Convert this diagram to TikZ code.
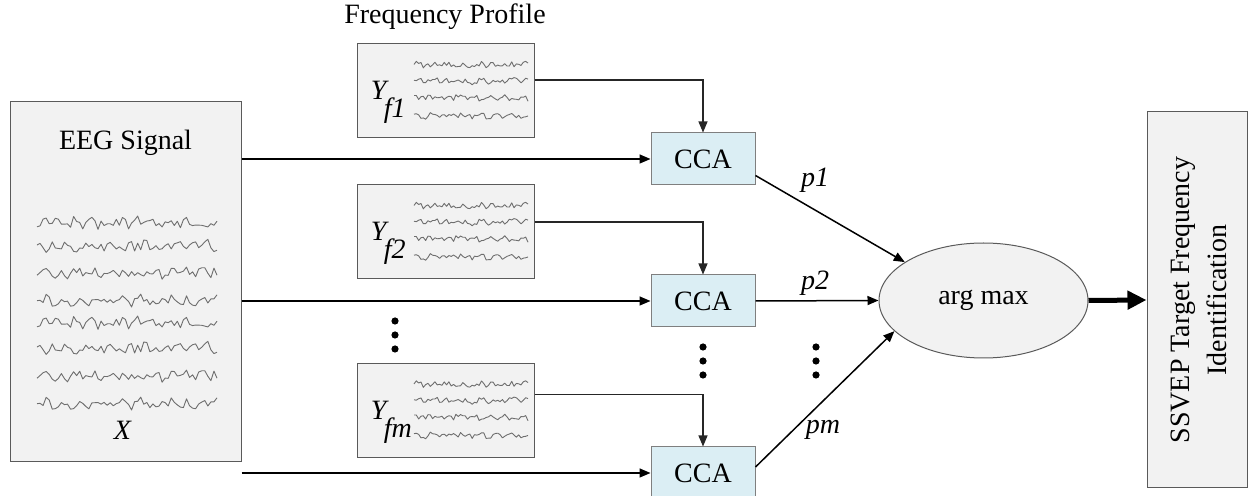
\documentclass[tikz,border=0pt]{standalone}
\usepackage{fontspec}
\setmainfont{Liberation Serif}
\usetikzlibrary{arrows.meta,shapes.geometric}

\definecolor{boxfill}{HTML}{F2F2F2}
\definecolor{boxline}{HTML}{5A5A5A}
\definecolor{ccafill}{HTML}{DBEEF4}
\definecolor{ccaline}{HTML}{7F7F7F}
\definecolor{tracecol}{HTML}{6E6E6E}

% one noisy trace: x0, y0, length, amplitude, seed, samples
\newcommand{\wavetrace}[6]{%
  \pgfmathsetseed{#5}%
  \draw[trace] plot[domain=0:#3, samples=#6]
    ({#1+\x},{#2+#4*(0.7*rand+0.3*sin(\x*23+#5*40))});
}

\tikzset{
  x=0.5pt, y=-0.5pt,
  font=\fontsize{14}{18.5}\selectfont,
  graybox/.style={draw=boxline, fill=boxfill, line width=0.5pt, inner sep=0pt},
  ccabox/.style={draw=ccaline, fill=ccafill, line width=0.5pt, inner sep=0pt,
                 minimum width=52pt, minimum height=26pt},
  ybox/.style={graybox, minimum width=88.5pt, minimum height=47pt},
  trace/.style={draw=tracecol, line width=0.45pt, line join=round},
  arr/.style={line width=0.75pt, -{Triangle[length=5.5pt,width=4.5pt]}},
  feed/.style={line width=0.55pt, draw=black!85, -{Triangle[length=5.5pt,width=4.5pt]}},
  bigarr/.style={line width=2.5pt, -{Triangle[length=9.5pt,width=9pt]}},
  dot/.style={circle, fill=black, inner sep=0pt, minimum size=3.6pt},
}

\begin{document}
\begin{tikzpicture}
\useasboundingbox (0,0) rectangle (1248,496);

% input signal block
\node[graybox, minimum width=115.5pt, minimum height=180pt] (eeg) at (125.5,282) {};
\node (eegtitle) at (125.5,143) {EEG Signal};
\node (xlabel) at (123,430) {\textit{X}};
\foreach \yy/\sd in {223/3, 246/7, 273/11, 301/19, 323/3, 348/7, 376/11, 404/19}
  {\wavetrace{37}{\yy}{180}{7}{\sd}{60}}

% reference signal blocks
\node (fptitle) at (445,17) {Frequency Profile};
\node[ybox] (yf1) at (445.5,91) {};
\node[ybox] (yf2) at (445.5,232) {};
\node[ybox] (yfm) at (445.5,410.5) {};
\foreach \bx/\sub/\top in {yf1/f1/44, yf2/f2/185, yfm/fm/363.5}{
  \node[anchor=base west, inner sep=0pt] at ([xshift=7pt,yshift=-4.5pt]\bx.north west |- \bx.west) {\textit{Y}};
  \node[anchor=base west, inner sep=0pt] at ([xshift=13.5pt,yshift=-13.5pt]\bx.north west |- \bx.west) {\textit{\sub}};
  \foreach \dy/\sd in {21/5, 37/13, 54/17, 72/23}
    {\wavetrace{414}{\top+\dy}{114}{4}{\sd}{50}}
}

% correlation blocks
\node[ccabox] (cca1) at (703,159) {CCA};
\node[ccabox] (cca2) at (703,301) {CCA};
\node[ccabox] (cca3) at (703,473) {CCA};

% decision blocks
\node[ellipse, draw=boxline, fill=boxfill, line width=0.5pt, inner sep=0pt,
      minimum width=104.5pt, minimum height=57.5pt] (argmax) at (983.5,300.5) {arg max};
\node[graybox, minimum width=50pt, minimum height=188pt] (ssvep) at (1197,300) {};
\node[rotate=90, align=center] (ssveptext) at (1199,300)
  {SSVEP Target Frequency\\Identification};

% signal into each CCA
\draw[arr] (eeg.east |- cca1.west) -- (cca1.west);
\draw[arr] (eeg.east |- cca2.west) -- (cca2.west);
\draw[arr] (eeg.east |- cca3.west) -- (cca3.west);

% reference into each CCA
\draw[feed] ([yshift=5.5pt]yf1.east) -| (cca1.north);
\draw[feed] ([yshift=5pt]yf2.east) -| (cca2.north);
\draw[feed] ([yshift=8pt]yfm.east) -| (cca3.north);

% correlation outputs
\draw[arr] ([yshift=5pt]cca1.south east) -- (argmax.154);
\draw[arr] (cca2.east) -- (argmax.west);
\draw[arr] ([yshift=3pt]cca3.east) -- (argmax.199);
\node (p1) at (815,180) {\textit{p1}};
\node (p2) at (815,283) {\textit{p2}};
\node (pm) at (823,430) {\textit{pm}};

\draw[bigarr] (argmax.east) -- (ssvep.west);

% ellipsis dots
\node[dot] (d1) at (395,321) {};
\node[dot] (d2) at (395,335) {};
\node[dot] (d3) at (395,349) {};
\foreach \xx/\nm in {703/c, 816/p}{
  \node[dot] (\nm1) at (\xx,347) {};
  \node[dot] (\nm2) at (\xx,361) {};
  \node[dot] (\nm3) at (\xx,375) {};
}
\end{tikzpicture}
\end{document}
